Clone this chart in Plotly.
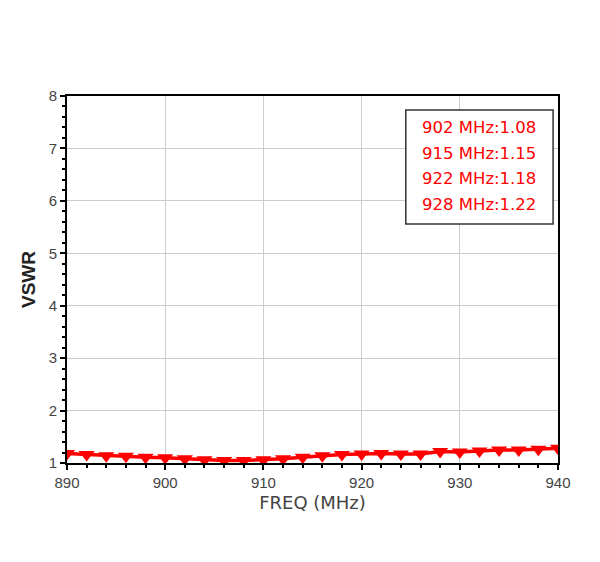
import plotly.graph_objects as go

freq = [890, 892, 894, 896, 898, 900, 902, 904, 906, 908, 910, 912, 914,
        916, 918, 920, 922, 924, 926, 928, 930, 932, 934, 936, 938, 940]
vswr = [1.18, 1.16, 1.14, 1.13, 1.11, 1.10, 1.08, 1.06, 1.05, 1.05, 1.06, 1.08, 1.11,
        1.14, 1.16, 1.17, 1.18, 1.17, 1.17, 1.22, 1.21, 1.23, 1.25, 1.25, 1.26, 1.28]
marker_labels = ["902 MHz:1.08", "915 MHz:1.15", "922 MHz:1.18", "928 MHz:1.22"]
x_ticks = [890, 900, 910, 920, 930, 940]
y_ticks = [1, 2, 3, 4, 5, 6, 7, 8]

fig = go.Figure()
fig.add_trace(go.Scatter(
    x=freq, y=vswr, mode="lines+markers",
    line=dict(color="#ff0000", width=3.5),
    marker=dict(symbol="triangle-down", size=14, color="#ff0000"),
    showlegend=False, cliponaxis=True,
))

axis_common = dict(
    showline=True, linecolor="black", linewidth=2, mirror=True,
    showgrid=True, gridcolor="#cccccc", gridwidth=1,
    ticks="outside", ticklen=5, tickwidth=2, tickcolor="black",
    zeroline=False, tickfont=dict(family="Liberation Sans", size=15, color="#444"),
)
fig.update_xaxes(range=[890, 940], tickvals=x_ticks,
                 minor=dict(dtick=2, ticks="outside", ticklen=3, tickcolor="black", tickwidth=1.5, showgrid=False),
                 title=dict(text="FREQ (MHz)", font=dict(family="DejaVu Sans", size=18, color="#444"), standoff=6),
                 **axis_common)
fig.update_yaxes(range=[1, 8], tickvals=y_ticks,
                 minor=dict(dtick=0.2, ticks="outside", ticklen=3, tickcolor="black", tickwidth=1.5, showgrid=False),
                 title=dict(text="<b>VSWR</b>", font=dict(family="Liberation Sans", size=19, color="#222"), standoff=8),
                 **axis_common)

fig.add_shape(type="rect", xref="paper", yref="paper", x0=0.690, x1=0.990, y0=0.651, y1=0.962,
              line=dict(color="#333", width=1.5), fillcolor="white", layer="above")
for i, t in enumerate(marker_labels):
    fig.add_annotation(text=t, xref="paper", yref="paper", x=0.840, y=0.913 - i * 0.0695,
                       showarrow=False, xanchor="center", yanchor="middle",
                       font=dict(family="DejaVu Sans", size=16.5, color="#ff0000"))

fig.update_layout(
    width=600, height=562, plot_bgcolor="white", paper_bgcolor="white",
    margin=dict(l=67, r=42, t=96, b=99),
)
fig.write_html("out.html")
